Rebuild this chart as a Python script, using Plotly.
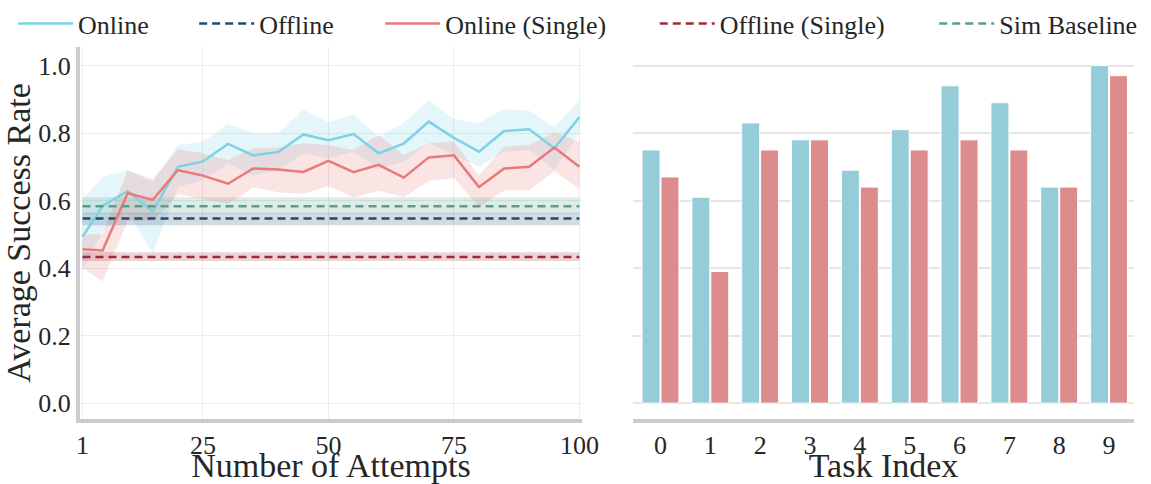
import plotly.graph_objects as go

# ---------------- data ----------------
attempts = [1, 5, 10, 15, 20, 25, 30, 35, 40, 45, 50, 55, 60, 65, 70, 75, 80, 85, 90, 95, 100]

online = [0.493, 0.584, 0.628, 0.568, 0.700, 0.716, 0.768, 0.734, 0.744, 0.796, 0.779,
          0.797, 0.740, 0.769, 0.834, 0.786, 0.745, 0.806, 0.811, 0.755, 0.847]
online_hi = [0.605, 0.670, 0.690, 0.655, 0.765, 0.774, 0.828, 0.800, 0.800, 0.869, 0.832,
             0.854, 0.789, 0.830, 0.897, 0.842, 0.830, 0.871, 0.866, 0.818, 0.897]
online_lo = [0.390, 0.510, 0.565, 0.445, 0.640, 0.660, 0.710, 0.675, 0.690, 0.740, 0.725,
             0.745, 0.695, 0.715, 0.770, 0.735, 0.700, 0.745, 0.750, 0.690, 0.798]

online_single = [0.456, 0.452, 0.622, 0.602, 0.690, 0.674, 0.650, 0.695, 0.692, 0.685, 0.718,
                 0.684, 0.706, 0.668, 0.728, 0.734, 0.640, 0.695, 0.700, 0.757, 0.700]
online_single_hi = [0.500, 0.500, 0.690, 0.663, 0.752, 0.740, 0.720, 0.755, 0.757, 0.770, 0.765,
                    0.750, 0.794, 0.735, 0.770, 0.775, 0.674, 0.760, 0.765, 0.803, 0.774]
online_single_lo = [0.400, 0.360, 0.540, 0.540, 0.619, 0.605, 0.590, 0.639, 0.625, 0.620, 0.643,
                    0.610, 0.629, 0.610, 0.658, 0.668, 0.580, 0.630, 0.630, 0.687, 0.634]

offline = 0.547
offline_band = [0.527, 0.564]
offline_single = 0.433
offline_single_band = [0.421, 0.447]
sim_baseline = 0.583
sim_baseline_band = [0.561, 0.610]

task_index = [0, 1, 2, 3, 4, 5, 6, 7, 8, 9]
task_online = [0.75, 0.61, 0.83, 0.78, 0.69, 0.81, 0.94, 0.89, 0.64, 1.00]
task_single = [0.67, 0.39, 0.75, 0.78, 0.64, 0.75, 0.78, 0.75, 0.64, 0.97]

y_ticks = [0.0, 0.2, 0.4, 0.6, 0.8, 1.0]
x_ticks = [1, 25, 50, 75, 100]

# ---------------- style ----------------
C_ON = "#7dd3e4"
C_OFF = "#1b4d72"
C_ONS = "#e97a7a"
C_OFFS = "#9c2a38"
C_SIM = "#5a9e8e"
BAR_ON = "#94cdd8"
BAR_ONS = "#dc8c8c"
FONT = "Liberation Serif, Times New Roman, Times, serif"
TXT = "#262626"
AX = "#cccccc"
GRID = "#ececec"


def rgba(h, a):
    h = h.lstrip("#")
    return f"rgba({int(h[0:2],16)},{int(h[2:4],16)},{int(h[4:6],16)},{a})"


fig = go.Figure()

# shaded bands for curves
for hi, lo, c in [(online_hi, online_lo, C_ON), (online_single_hi, online_single_lo, C_ONS)]:
    fig.add_trace(go.Scatter(x=attempts, y=hi, mode="lines", line=dict(width=0),
                             showlegend=False, hoverinfo="skip", xaxis="x", yaxis="y"))
    fig.add_trace(go.Scatter(x=attempts, y=lo, mode="lines", line=dict(width=0),
                             fill="tonexty", fillcolor=rgba(c, 0.2),
                             showlegend=False, hoverinfo="skip", xaxis="x", yaxis="y"))

# shaded bands for horizontal baselines
xs = [attempts[0], attempts[-1]]
for band, c in [(sim_baseline_band, C_SIM), (offline_band, C_OFF), (offline_single_band, C_OFFS)]:
    fig.add_trace(go.Scatter(x=xs, y=[band[1]] * 2, mode="lines", line=dict(width=0),
                             showlegend=False, hoverinfo="skip", xaxis="x", yaxis="y"))
    fig.add_trace(go.Scatter(x=xs, y=[band[0]] * 2, mode="lines", line=dict(width=0),
                             fill="tonexty", fillcolor=rgba(c, 0.2),
                             showlegend=False, hoverinfo="skip", xaxis="x", yaxis="y"))

DASH = "8px,5px"
fig.add_trace(go.Scatter(x=attempts, y=online, mode="lines", name="Online",
                         line=dict(color=C_ON, width=2.5), legend="legend"))
fig.add_trace(go.Scatter(x=xs, y=[offline] * 2, mode="lines", name="Offline",
                         line=dict(color=C_OFF, width=2.5, dash=DASH), legend="legend2"))
fig.add_trace(go.Scatter(x=attempts, y=online_single, mode="lines", name="Online (Single)",
                         line=dict(color=C_ONS, width=2.5), legend="legend3"))
fig.add_trace(go.Scatter(x=xs, y=[offline_single] * 2, mode="lines", name="Offline (Single)",
                         line=dict(color=C_OFFS, width=2.5, dash=DASH), legend="legend4"))
fig.add_trace(go.Scatter(x=xs, y=[sim_baseline] * 2, mode="lines", name="Sim Baseline",
                         line=dict(color=C_SIM, width=2.5, dash=DASH), legend="legend5"))

# bars
fig.add_trace(go.Bar(x=task_index, y=task_online, marker=dict(color=BAR_ON, line=dict(color="white", width=1)),
                     showlegend=False, xaxis="x2", yaxis="y2"))
fig.add_trace(go.Bar(x=task_index, y=task_single, marker=dict(color=BAR_ONS, line=dict(color="white", width=1)),
                     showlegend=False, xaxis="x2", yaxis="y2"))

W, H = 1151, 484
ML, MR, MT, MB = 80, 0, 45, 60
PW = W - ML - MR
PH = H - MT - MB


def px_x(p):
    return (p - ML) / PW


def px_y(p):
    return 1 - (p - MT) / PH


IW = 55
legend_common = dict(orientation="h", font=dict(family=FONT, size=26, color=TXT),
                     bgcolor="rgba(0,0,0,0)", yanchor="middle", xanchor="left",
                     itemwidth=IW, y=px_y(21))
text_starts = [78, 262, 451, 730, 1014]
legend_x = [t - IW - 11 for t in text_starts]

tickfont = dict(family=FONT, size=26, color=TXT)
titlefont = dict(family=FONT, size=34, color=TXT)

fig.update_layout(
    width=W, height=H,
    margin=dict(l=ML, r=MR, t=MT, b=MB),
    paper_bgcolor="white", plot_bgcolor="white",
    barmode="group", bargap=0.24, bargroupgap=0.05,
    legend=dict(**legend_common, x=px_x(legend_x[0])),
    legend2=dict(**legend_common, x=px_x(legend_x[1])),
    legend3=dict(**legend_common, x=px_x(legend_x[2])),
    legend4=dict(**legend_common, x=px_x(legend_x[3])),
    legend5=dict(**legend_common, x=px_x(legend_x[4])),
    xaxis=dict(domain=[0, px_x(590)], range=[0.5, 100.5], tickvals=x_ticks,
               ticktext=[str(v) for v in x_ticks], tickfont=tickfont,
               showgrid=True, gridcolor=GRID, gridwidth=1, zeroline=False,
               showline=True, linecolor=AX, linewidth=4, ticks="",
               title=dict(text="Number of Attempts", font=titlefont, standoff=0)),
    yaxis=dict(domain=[0, 1], range=[-0.047, 1.055], tickvals=y_ticks,
               ticktext=[f"{v:.1f}" for v in y_ticks], tickfont=tickfont,
               showgrid=True, gridcolor=GRID, gridwidth=1, zeroline=False,
               showline=True, linecolor=AX, linewidth=4, ticks="",
               title=dict(text="Average Success Rate", font=titlefont, standoff=2)),
    xaxis2=dict(domain=[px_x(642), 1], range=[-0.55, 9.5], tickvals=task_index,
                ticktext=[str(v) for v in task_index], tickfont=tickfont,
                showgrid=False, zeroline=False, anchor="y2",
                showline=True, linecolor=AX, linewidth=4, ticks="",
                title=dict(text="Task Index", font=titlefont, standoff=0)),
    yaxis2=dict(domain=[0, 1], range=[-0.047, 1.055], tickvals=y_ticks,
                showticklabels=False, anchor="x2",
                showgrid=True, gridcolor="#e6e6e6", gridwidth=1.5, zeroline=False,
                showline=False, ticks=""),
)

fig.write_html("out.html")
